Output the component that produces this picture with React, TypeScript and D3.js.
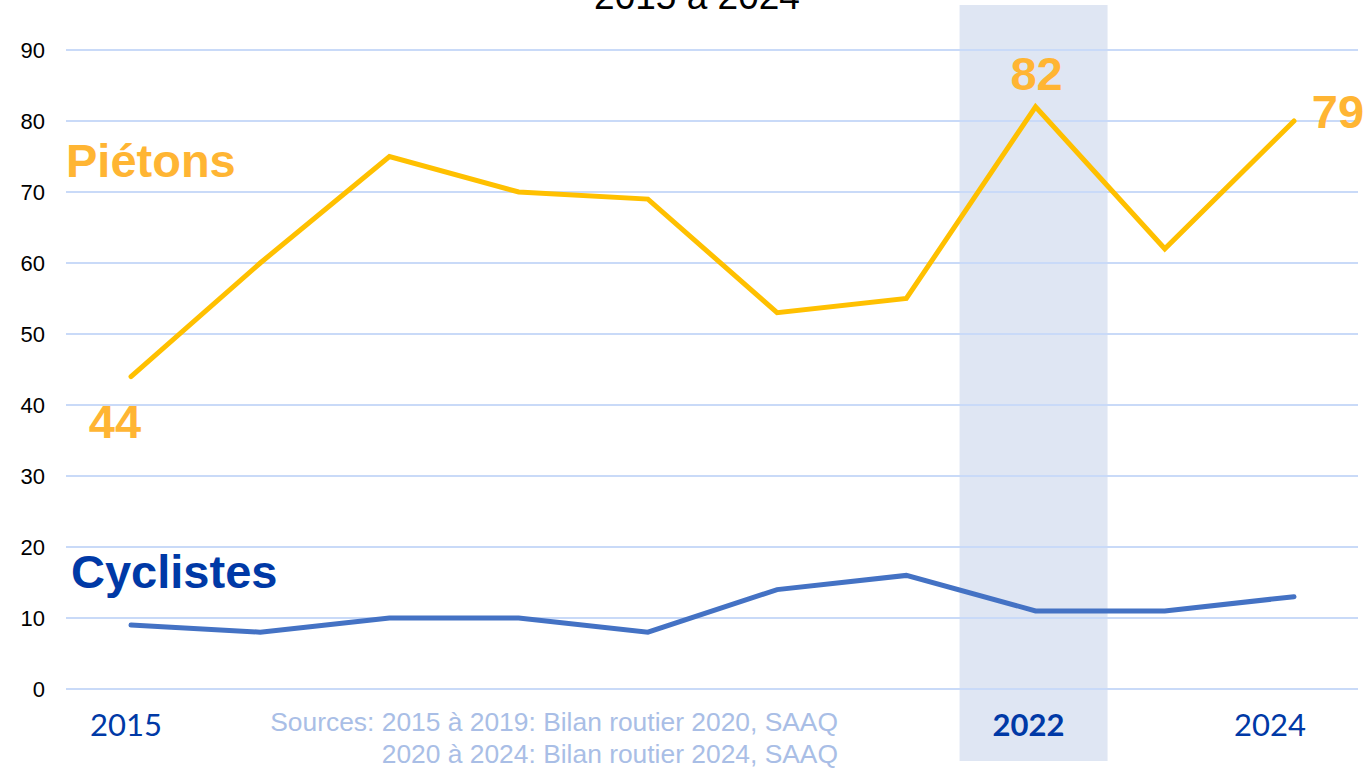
import React from "react";
import * as d3 from "d3";

const years = [2015, 2016, 2017, 2018, 2019, 2020, 2021, 2022, 2023, 2024];
const pietons = [44, 60, 75, 70, 69, 53, 55, 82, 62, 80];
const cyclistes = [9, 8, 10, 10, 8, 14, 16, 11, 11, 13];
const yTicks = [0, 10, 20, 30, 40, 50, 60, 70, 80, 90];
const xLabels = [
  { year: 2015, text: "2015", bold: false },
  { year: 2022, text: "2022", bold: true },
  { year: 2024, text: "2024", bold: false },
];
const valueLabels = [
  { year: 2015, value: 44, text: "44" },
  { year: 2022, value: 82, text: "82" },
  { year: 2024, value: 80, text: "79" },
];
const highlightYear = 2022;
const sources = [
  "Sources: 2015 à 2019: Bilan routier 2020, SAAQ",
  "2020 à 2024: Bilan routier 2024, SAAQ",
];

export default function App() {
  const W = 1368, H = 768;
  const x = d3.scaleLinear().domain([2015, 2024]).range([131, 1294]);
  const y = d3.scaleLinear().domain([0, 90]).range([689, 50]);
  const line = d3.line<number>().x((_, i) => x(years[i])).y((d) => y(d));
  const orange = "#FFB533";
  const blue = "#0039A6";
  const xb = x(highlightYear);
  return (
    <svg width={W} height={H} style={{ position: "absolute", left: 0, top: 0, background: "#fff" }}
      fontFamily="Liberation Sans, Arial, sans-serif">
      <rect x={xb - 76} y={5} width={148} height={756} fill="#DFE6F3" />
      {yTicks.map((t) => (
        <g key={t}>
          <line x1={66} x2={1358} y1={y(t)} y2={y(t)} stroke="#C9DAF8" strokeWidth={2} />
          <text x={45} y={y(t)} dy="0.35em" textAnchor="end" fontSize={22} fill="#000">{t}</text>
        </g>
      ))}
      <text x={697} y={9} textAnchor="middle" fontSize={37} fill="#000">2015 à 2024</text>
      <path d={line(pietons) || ""} fill="none" stroke="#FFC000" strokeWidth={5} strokeLinejoin="miter" strokeLinecap="round" />
      <path d={line(cyclistes) || ""} fill="none" stroke="#4472C4" strokeWidth={5} strokeLinecap="round" />
      <text x={66} y={177} fontSize={47} fontWeight="bold" fill={orange}>Piétons</text>
      <text x={71} y={588} fontSize={47} fontWeight="bold" fill={blue}>Cyclistes</text>
      {valueLabels.map((v, i) => {
        const px = i === 0 ? x(v.year) - 16 : i === 1 ? x(v.year) + 1 : x(v.year) + 44;
        const py = i === 0 ? 438 : i === 1 ? 90 : 128;
        return (
          <text key={v.year} x={px} y={py} textAnchor="middle" fontSize={47} fontWeight="bold" fill={orange}>{v.text}</text>
        );
      })}
      {xLabels.map((l, i) => {
        const off = i === 0 ? -5 : i === 1 ? -7 : -24;
        return (
          <text key={l.year} x={x(l.year) + off} y={736} textAnchor="middle" fontSize={31}
            fontFamily="Lato, Open Sans, sans-serif" fontWeight={l.bold ? "bold" : "normal"} fill={blue}>{l.text}</text>
        );
      })}
      <text x={838} y={731} textAnchor="end" fontSize={26.4} fill="#A9BEE6">{sources[0]}</text>
      <text x={838} y={763} textAnchor="end" fontSize={26.4} fill="#A9BEE6">{sources[1]}</text>
    </svg>
  );
}
